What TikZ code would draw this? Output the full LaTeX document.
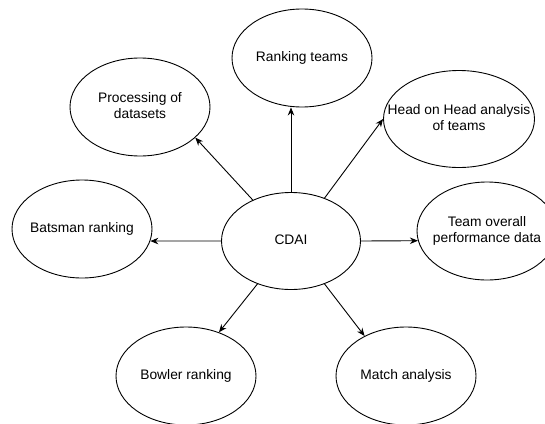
\documentclass[tikz,border=0pt]{standalone}
\usepackage{fontspec}
\setmainfont{Liberation Sans}
\usepackage{tikz}
\usetikzlibrary{shapes,arrows.meta,positioning}
\tikzstyle{topic} = [ellipse, draw=black, line width=0.9pt, fill=white, text=black, font=\fontsize{13.8}{16.6}\selectfont, minimum width=140pt, minimum height=98pt, inner sep=0pt]
\tikzstyle{tedge}  = [draw, line width=0.9pt, -{Stealth[length=8pt,width=6.5pt]}]
\newcommand{\ctext}[1]{\makebox[0pt]{\begin{tabular}{@{}c@{}}#1\end{tabular}}}

\begin{document}
\begin{tikzpicture}[x=1pt,y=1pt,on grid]
\useasboundingbox (0,0) rectangle (545,-423);

% topics =============================

% centre
\node[topic, minimum width=139pt, minimum height=97pt] (cdai) at (291,-241) {\ctext{CDAI}};

% upper row
\node[topic, above right=183pt and 11pt of cdai] (rank) {\ctext{Ranking teams}};
\node[topic, above left=134pt and 151pt of cdai] (proc) {\ctext{Processing of\\datasets}};
\node[topic, above right=122pt and 168pt of cdai, minimum width=151pt, minimum height=97pt] (head) {\ctext{Head on Head analysis\\of teams}};

% sides
\node[topic, above left=12pt and 209pt of cdai] (bat) {\ctext{Batsman ranking}};
\node[topic, above right=10pt and 196pt of cdai] (team) {\ctext{Team overall\\performance data}};

% lower row
\node[topic, below left=135pt and 105pt of cdai] (bowl) {\ctext{Bowler ranking}};
\node[topic, below right=135pt and 115pt of cdai] (match) {\ctext{Match analysis}};

%edges
\path[tedge] (cdai.north) -- (cdai.north |- rank.south);
\path[tedge] (cdai.133) -- (proc.-29);
\path[tedge] (cdai.52) -- (head.west);
\path[tedge] (cdai.west) -- (bat.-10);
\path[tedge] (cdai.east) -- (team.188);
\path[tedge] (cdai.232) -- (bowl.53);
\path[tedge] (cdai.-52) -- (match.136);

\end{tikzpicture}
\end{document}
